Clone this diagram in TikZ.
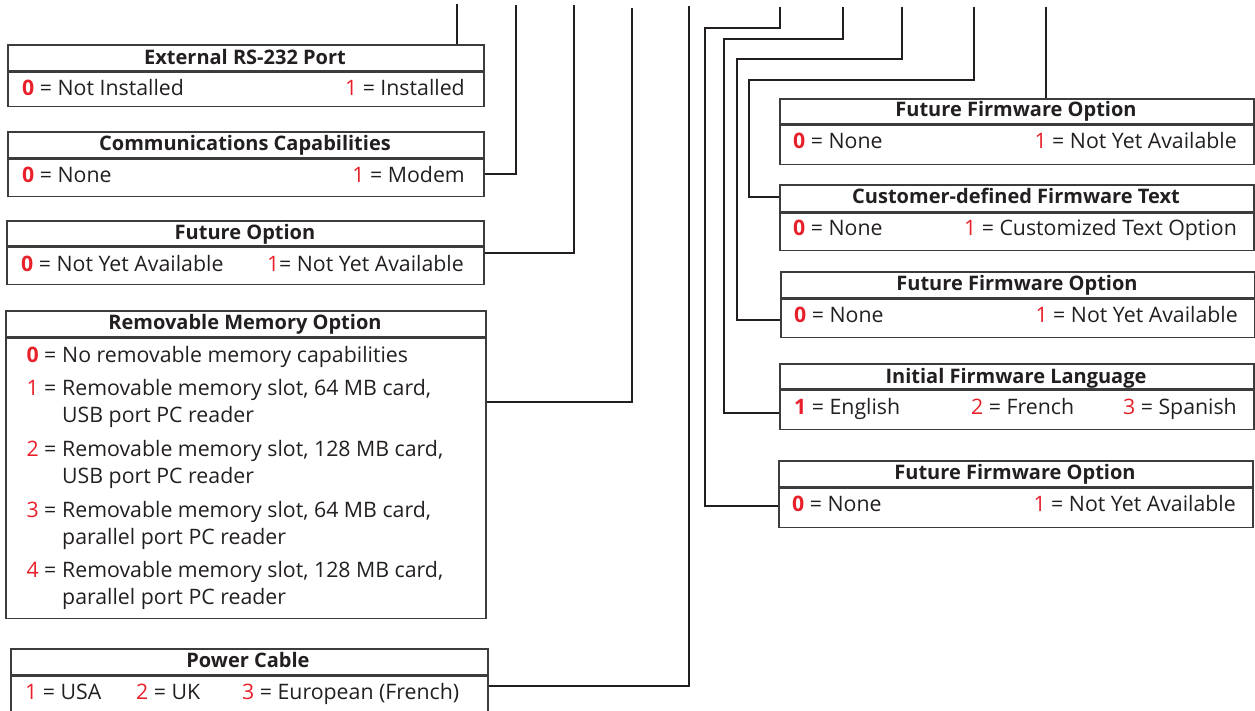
\documentclass[tikz,border=0pt]{standalone}
\usepackage{fontspec}
\setmainfont{Open Sans}
\definecolor{ink}{HTML}{231F20}
\definecolor{frame}{HTML}{3C3C3C}
\definecolor{numred}{HTML}{E8202A}
\newcommand{\rb}[1]{\textbf{\textcolor{numred}{#1}}}
\newcommand{\rr}[1]{\textcolor{numred}{#1}}
\tikzset{
  box/.style={draw=frame, line width=1.5pt, inner sep=0pt, anchor=north west},
  ttl/.style={font=\fontsize{20}{24}\selectfont\bfseries, text=ink},
  conn/.style={draw=ink, line width=2.6pt, line join=miter},
  val/.style={font=\fontsize{21.3}{26}\selectfont, text=ink, inner sep=0pt},
  vl/.style={val, anchor=base west},
  vr/.style={val, anchor=base east},
}
\begin{document}
\begin{tikzpicture}[x=1pt,y=-1pt]
\useasboundingbox (0,0) rectangle (1255,710);

% ---------- left boxes ----------
% A
\node[box, minimum width=476, minimum height=26] (ta) at (7,44) {};
\node[ttl, anchor=base] at (245,64) {External RS-232 Port};
\node[box, minimum width=476, minimum height=34] (va) at (ta.south west) {};
\node[vl] (va0) at (22,95) {\rb{0} = Not Installed};
\node[vr] (va1) at (465,95) {\rr{1} = Installed};
% B
\node[box, minimum width=476, minimum height=26] (tb) at (7,131) {};
\node[ttl, anchor=base] at (245,150) {Communications Capabilities};
\node[box, minimum width=476, minimum height=37] (vb) at (tb.south west) {};
\node[vl] (vb0) at (22,182) {\rb{0} = None};
\node[vr] (vb1) at (465,182) {\rr{1} = Modem};
% C
\node[box, minimum width=477, minimum height=25] (tc) at (6,220) {};
\node[ttl, anchor=base] at (245,239) {Future Option};
\node[box, minimum width=477, minimum height=37] (vc) at (tc.south west) {};
\node[vl] (vc0) at (21,271) {\rb{0} = Not Yet Available};
\node[vr] (vc1) at (464,271) {\rr{1}= Not Yet Available};
% D
\node[box, minimum width=480, minimum height=26] (td) at (5,310) {};
\node[ttl, anchor=base] at (245,329) {Removable Memory Option};
\node[box, minimum width=480, minimum height=280] (vd) at (td.south west) {};
\node[vr] (d0n) at (39,362) {\rb{0}};
\node[vl] (d0e) at (44,362) {=};
\node[vl] (d0t) at (62,362) {No removable memory capabilities};
\node[vr] (d1n) at (39,395) {\rr{1}};
\node[vl] (d1e) at (44,395) {=};
\node[vl] (d1t) at (62,395) {Removable memory slot, 64 MB card,};
\node[vl] (d1u) at (62,422) {USB port PC reader};
\node[vr] (d2n) at (39,456) {\rr{2}};
\node[vl] (d2e) at (44,456) {=};
\node[vl] (d2t) at (62,456) {Removable memory slot, 128 MB card,};
\node[vl] (d2u) at (62,483) {USB port PC reader};
\node[vr] (d3n) at (39,517) {\rr{3}};
\node[vl] (d3e) at (44,517) {=};
\node[vl] (d3t) at (62,517) {Removable memory slot, 64 MB card,};
\node[vl] (d3u) at (62,544) {parallel port PC reader};
\node[vr] (d4n) at (39,577) {\rr{4}};
\node[vl] (d4e) at (44,577) {=};
\node[vl] (d4t) at (62,577) {Removable memory slot, 128 MB card,};
\node[vl] (d4u) at (62,604) {parallel port PC reader};
% E
\node[box, minimum width=477, minimum height=26] (te) at (10,648) {};
\node[ttl, anchor=base] at (248,667) {Power Cable};
\node[box, minimum width=477, minimum height=40] (ve) at (te.south west) {};
\node[vl] (ve1) at (25,699) {\rr{1} = USA};
\node[vl] (ve2) at (136,699) {\rr{2} = UK};
\node[vl] (ve3) at (242,699) {\rr{3} = European (French)};

% ---------- right boxes ----------
% F1
\node[box, minimum width=474, minimum height=25] (tf) at (779,98) {};
\node[ttl, anchor=base] at (1016,116) {Future Firmware Option};
\node[box, minimum width=474, minimum height=39] (vf) at (tf.south west) {};
\node[vl] (vf0) at (793,148) {\rb{0} = None};
\node[vr] (vf1) at (1237,148) {\rr{1} = Not Yet Available};
% G Customer
\node[box, minimum width=474, minimum height=27] (tg) at (779,184) {};
\node[ttl, anchor=base] at (1016,203) {Customer-defined Firmware Text};
\node[box, minimum width=474, minimum height=37] (vg) at (tg.south west) {};
\node[vl] (vg0) at (793,235) {\rb{0} = None};
\node[vr] (vg1) at (1237,235) {\rr{1} = Customized Text Option};
% H
\node[box, minimum width=474, minimum height=26] (th) at (780,271) {};
\node[ttl, anchor=base] at (1017,290) {Future Firmware Option};
\node[box, minimum width=474, minimum height=38] (vh) at (th.south west) {};
\node[vl] (vh0) at (794,322) {\rb{0} = None};
\node[vr] (vh1) at (1238,322) {\rr{1} = Not Yet Available};
% I Language
\node[box, minimum width=474, minimum height=25] (ti) at (779,363) {};
\node[ttl, anchor=base] at (1016,383) {Initial Firmware Language};
\node[box, minimum width=474, minimum height=39] (vi) at (ti.south west) {};
\node[vl] (vi1) at (794,414) {\rb{1} = English};
\node[vl] (vi2) at (971,414) {\rr{2} = French};
\node[vr] (vi3) at (1237,414) {\rr{3} = Spanish};
% J
\node[box, minimum width=474, minimum height=26] (tj) at (778,460) {};
\node[ttl, anchor=base] at (1015,479) {Future Firmware Option};
\node[box, minimum width=474, minimum height=39] (vj) at (tj.south west) {};
\node[vl] (vj0) at (792,511) {\rb{0} = None};
\node[vr] (vj1) at (1236,511) {\rr{1} = Not Yet Available};

% ---------- connectors ----------
\coordinate (pA) at (457,4);
\coordinate (pB) at (516,5);
\coordinate (pC) at (574,5);
\coordinate (pD) at (632,8);
\coordinate (pE) at (689,6);
\coordinate (pJ) at (780,7);
\coordinate (pI) at (843,7);
\coordinate (pH) at (902,7);
\coordinate (pG) at (974,7);
\coordinate (pF) at (1046,7);

\draw[conn] (pA) -- (pA |- ta.north);
\draw[conn] (pB) -- (516,174) -- (vb.east |- 0,174);
\draw[conn] (pC) -- (574,253) -- (vc.east |- 0,253);
\draw[conn] (pD) -- (632,402) -- (vd.east |- 0,402);
\draw[conn] (pE) -- (689,686) -- (ve.east |- 0,686);
\draw[conn] (pJ) -- (780,28) -- (705,28) -- (705,506) -- (vj.west |- 0,506);
\draw[conn] (pI) -- (843,39) -- (724,39) -- (724,413) -- (vi.west |- 0,413);
\draw[conn] (pH) -- (902,59) -- (737,59) -- (737,320) -- (vh.west |- 0,320);
\draw[conn] (pG) -- (974,80) -- (749,80) -- (749,197) -- (tg.west |- 0,197);
\draw[conn] (pF) -- (pF |- tf.north);
\end{tikzpicture}
\end{document}
